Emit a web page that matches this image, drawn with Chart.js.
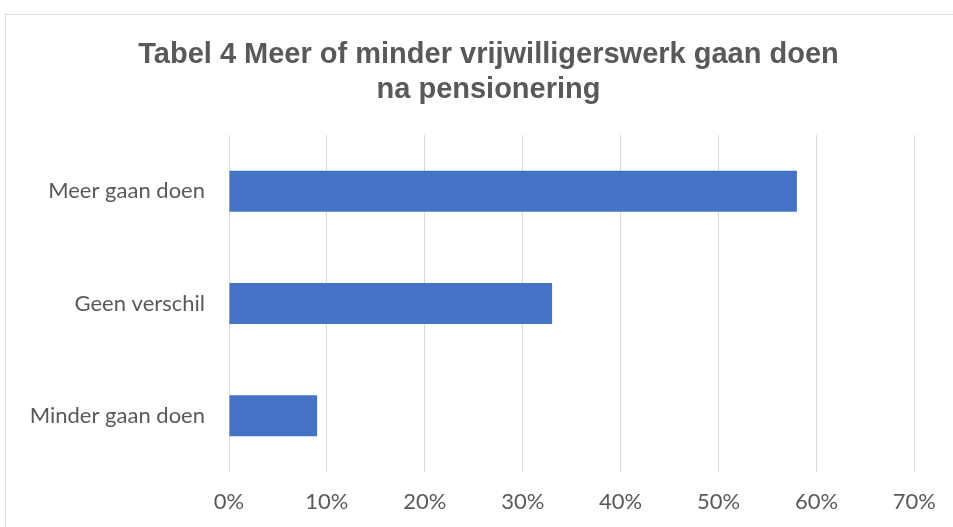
<!DOCTYPE html>
<html>
<head>
<meta charset="utf-8">
<script src="https://cdn.jsdelivr.net/npm/chart.js@4.4.1/dist/chart.umd.min.js"></script>
<style>
  html, body { margin: 0; padding: 0; background: #ffffff; overflow: hidden; }
  #wrap { position: relative; width: 953px; height: 527px; }
  #frame { position: absolute; left: 5px; top: 14px; width: 1200px; height: 800px; border: 1px solid #d9d9d9; box-sizing: border-box; }
  canvas { position: absolute; left: 0; top: 0; }
</style>
</head>
<body>
<div id="wrap">
  <div id="frame"></div>
  <canvas id="c" width="953" height="527"></canvas>
</div>
<script>
const titleLines = ["Tabel 4 Meer of minder vrijwilligerswerk gaan doen", "na pensionering"];
const categories = ["Meer gaan doen", "Geen verschil", "Minder gaan doen"];
const values = [58, 33, 9];
const tickMin = 0;
const tickMax = 70;
const tickStep = 10;

const textColor = "#595959";
const labelFont = "Lato, 'Open Sans', sans-serif";

const titleShift = {
  id: "titleShift",
  afterLayout(chart) {
    const t = chart.titleBlock;
    if (t) { t.left = 24; t.right = 953; }
  }
};

new Chart(document.getElementById("c"), {
  type: "bar",
  data: {
    labels: categories,
    datasets: [{
      data: values,
      backgroundColor: "#4472C4",
      borderWidth: 0,
      barPercentage: 0.365,
      categoryPercentage: 1.0
    }]
  },
  plugins: [titleShift],
  options: {
    indexAxis: "y",
    responsive: false,
    animation: false,
    devicePixelRatio: 1,
    layout: { padding: { left: 0, right: 37, top: 14, bottom: 11.6 } },
    plugins: {
      legend: { display: false },
      tooltip: { enabled: false },
      title: {
        display: true,
        text: titleLines,
        color: textColor,
        font: { family: "'Liberation Sans', Arial, sans-serif", size: 29, weight: "bold", lineHeight: 1.207 },
        padding: { top: 23, bottom: 28 }
      }
    },
    scales: {
      x: {
        min: tickMin,
        max: tickMax,
        afterFit: (scale) => { scale.height = 43.4; },
        ticks: {
          stepSize: tickStep,
          color: textColor,
          font: { family: labelFont, size: 22, lineHeight: 1.2 },
          padding: 17,
          callback: (v) => v + "%"
        },
        grid: { color: "#d9d9d9", lineWidth: 1, drawTicks: false },
        border: { display: false }
      },
      y: {
        afterFit: (scale) => { scale.width = 229; },
        ticks: {
          color: textColor,
          font: { family: labelFont, size: 22 },
          padding: 24
        },
        grid: { display: false, drawTicks: false },
        border: { display: false }
      }
    }
  }
});
</script>
</body>
</html>
